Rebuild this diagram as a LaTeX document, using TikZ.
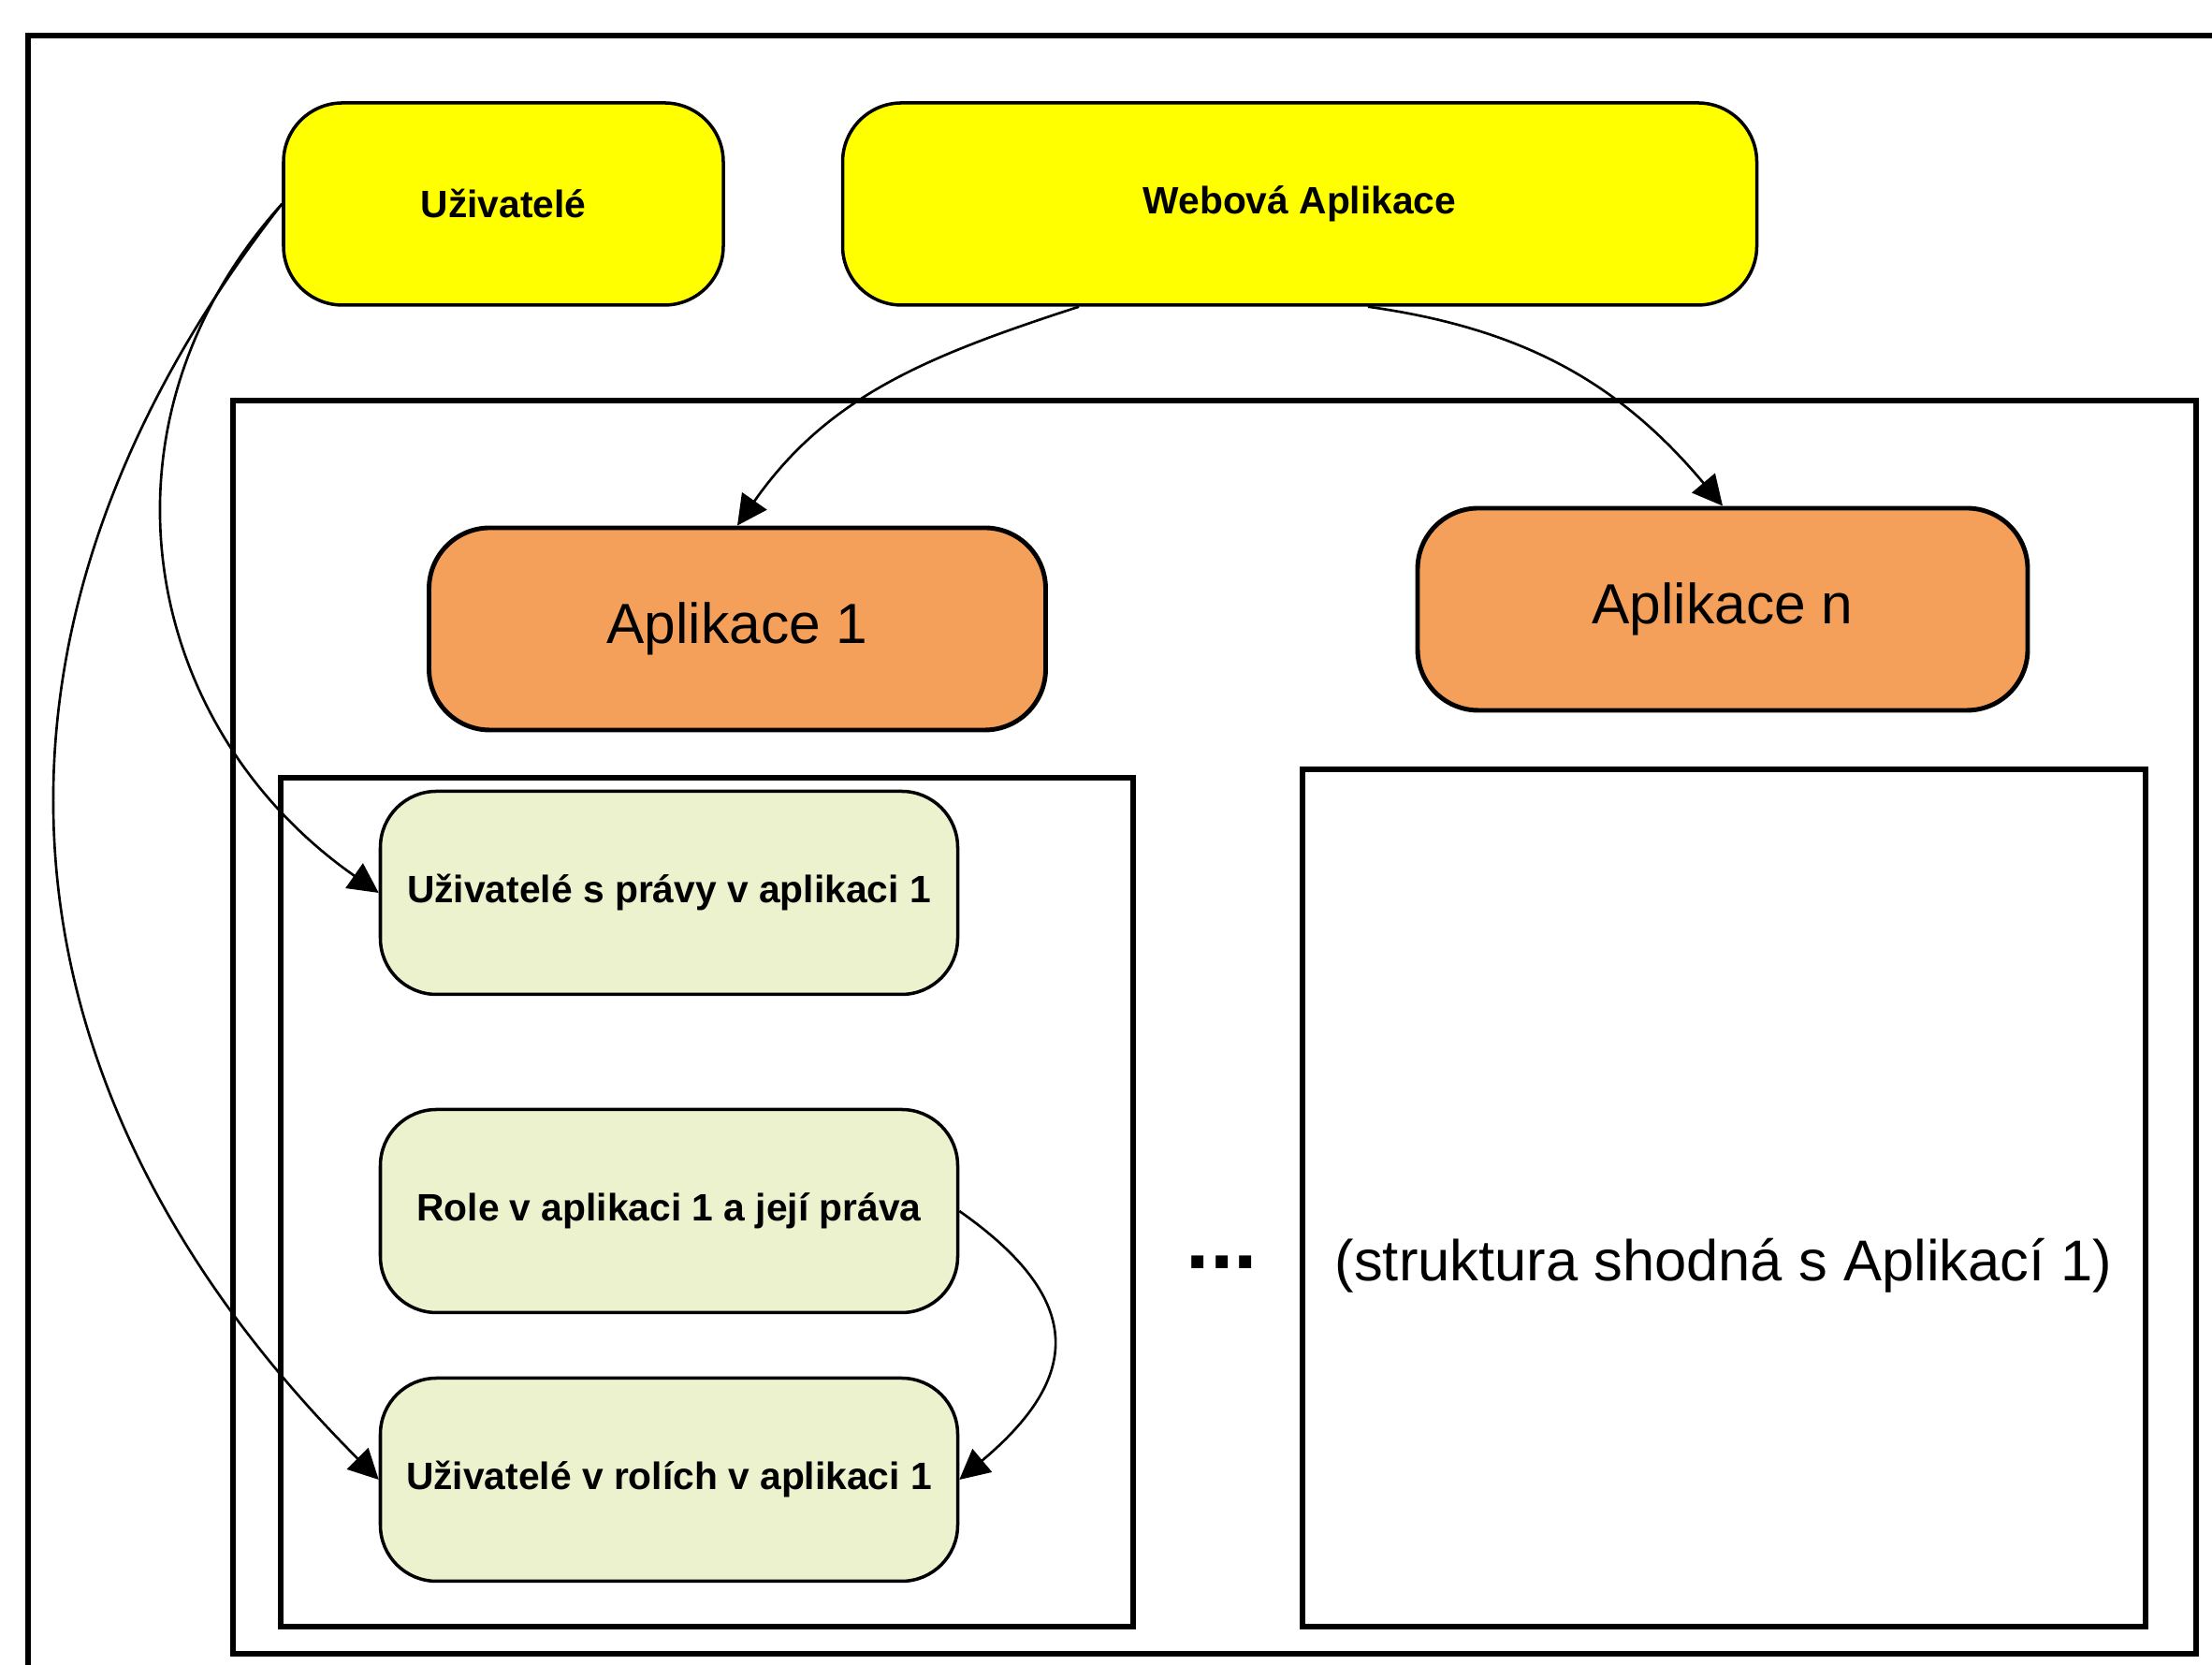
\documentclass[tikz,border=0pt]{standalone}
\usepackage{fontspec}
\setmainfont{Liberation Sans}
\usepackage{xcolor}
\usetikzlibrary{arrows.meta}
\definecolor{userYellow}{RGB}{255,255,0}
\definecolor{appOrange}{RGB}{244,160,90}
\definecolor{roleGreen}{RGB}{236,241,206}

\begin{document}
\begin{tikzpicture}[
    topbox/.style={draw, line width=1pt, fill=userYellow, rounded corners=0.63cm, minimum height=2.16cm, font=\fontsize{11.6}{14}\selectfont\bfseries},
    appbox/.style={draw, line width=1.4pt, fill=appOrange, rounded corners=0.65cm, minimum height=2.16cm, font=\fontsize{17.2}{20}\selectfont},
    rolebox/.style={draw, line width=1pt, fill=roleGreen, rounded corners=0.6cm, minimum width=6.17cm, minimum height=2.17cm, font=\fontsize{11.6}{14}\selectfont\bfseries},
    frame/.style={line width=1.5pt},
    link/.style={line width=0.75pt, -{Triangle[length=0.32cm,width=0.32cm]}}
  ]
             \useasboundingbox (0,0) rectangle (23.64,17.79);

             \draw[frame] (0.30,-0.5) -- (0.30,17.41) -- (24,17.41);
             \draw[frame] (2.49,0.12) rectangle (23.47,13.51);
             \draw[frame] (3.00,0.41) rectangle (12.11,9.48);
             \draw[frame] (13.92,0.41) rectangle (22.93,9.57);

             \node[topbox, minimum width=4.70cm] (users) at (5.38,15.61) {Uživatelé};
             \node[topbox, minimum width=9.77cm] (webapp) at (13.89,15.61) {Webová Aplikace};

             \node[appbox, minimum width=6.59cm] (app1) at (7.88,11.07) {Aplikace 1};
             \node[appbox, minimum width=6.52cm] (appn) at (18.41,11.28) {Aplikace n};

             \node[rolebox] (userRights) at (7.15,8.25) {Uživatelé s právy v aplikaci 1};
             \node[rolebox] (roleRights) at (7.15,4.85) {Role v aplikaci 1 a její práva};
             \node[rolebox] (userRoles) at (7.15,1.98) {Uživatelé v rolích v aplikaci 1};

             \node[font=\fontsize{26}{30}\selectfont\bfseries] (dots) at (13.06,4.30) {...};
             \node[font=\fontsize{17.5}{20}\selectfont] (sameNote) at (18.42,4.27) {(struktura shodná s Aplikací 1)};

             \draw[link] ([xshift=-2.36cm]webapp.south) to[out=198, in=55] (app1.north);
             \draw[link] ([xshift=0.73cm]webapp.south) to[out=-8, in=130] (appn.north);
             \draw[link] (users.west) to[out=228, in=145, looseness=1.08] (userRights.west);
             \draw[link] (users.west) to[out=232, in=135, looseness=1.1] (userRoles.west);
             \draw[link] (roleRights.east) to[out=-35, in=40, looseness=1.5] (userRoles.east);
\end{tikzpicture}
\end{document}
